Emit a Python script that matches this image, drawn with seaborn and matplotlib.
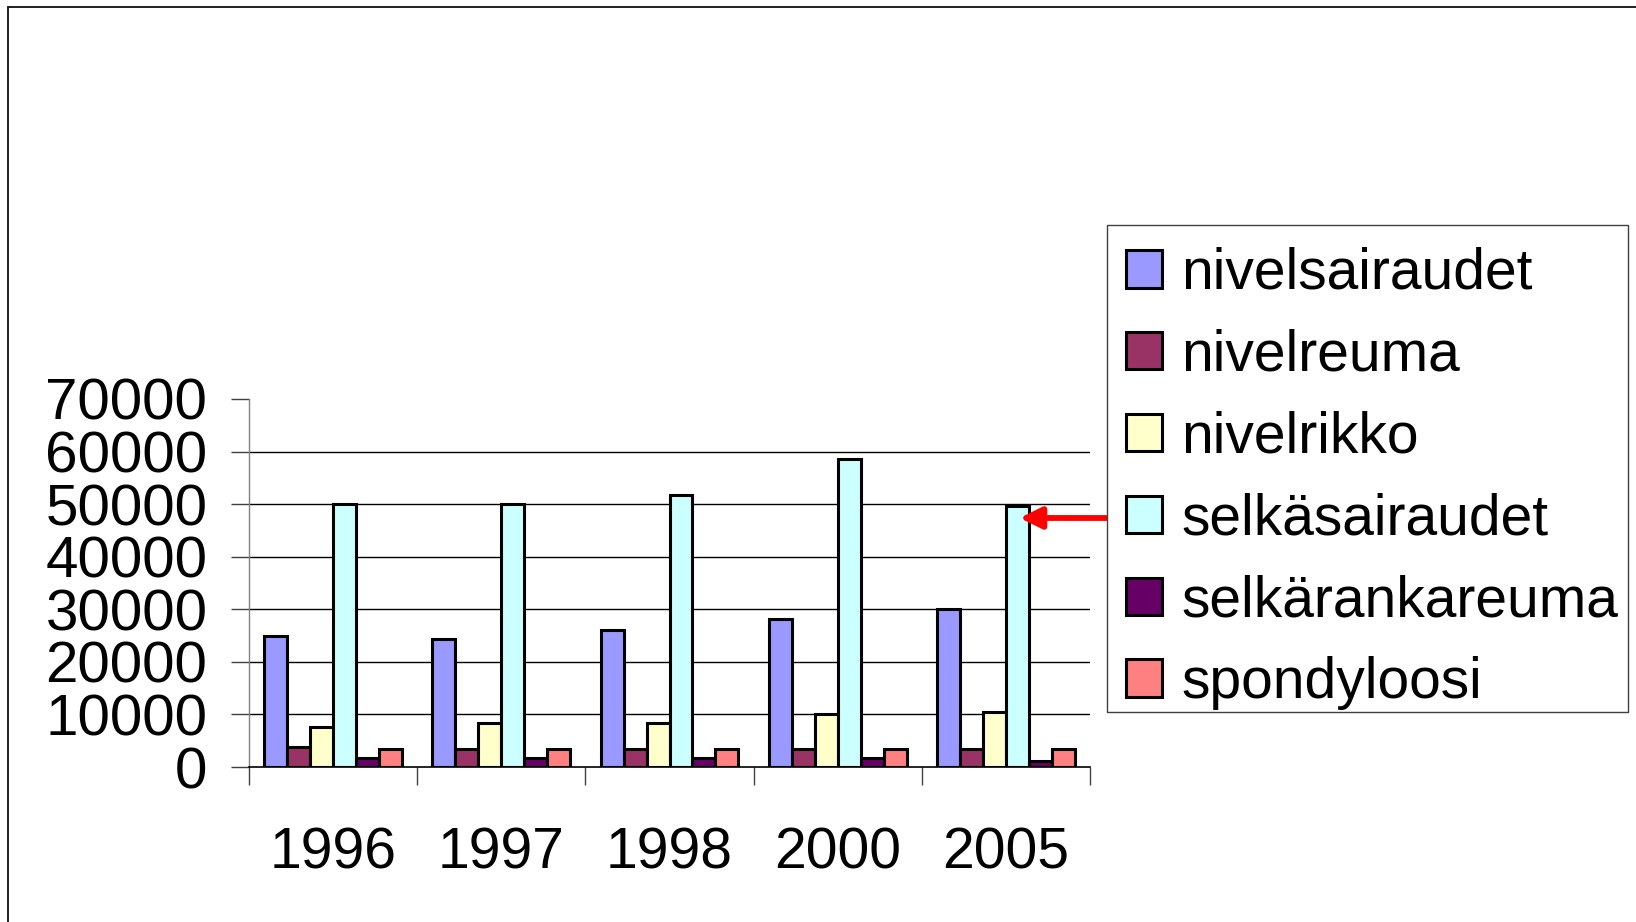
import matplotlib
matplotlib.use("Agg")
import matplotlib.pyplot as plt
from matplotlib.lines import Line2D
from matplotlib.patches import Rectangle
import seaborn as sns
import pandas as pd


# ------------------------------------------------
# DATA
# ------------------------------------------------

years = ["1996", "1997", "1998", "2000", "2005"]

diseases = [
    "nivelsairaudet", "nivelreuma", "nivelrikko",
    "selkäsairaudet", "selkärankareuma", "spondyloosi",
]

nivelsairaudet = [25000, 24400, 26000, 28200, 30000]
nivelreuma = [3800, 3400, 3400, 3400, 3400]
nivelrikko = [7700, 8400, 8400, 10000, 10500]
selkasairaudet = [50000, 50000, 51800, 58600, 49600]
selkarankareuma = [1700, 1700, 1700, 1700, 1100]
spondyloosi = [3400, 3400, 3400, 3400, 3400]

y_ticks = [0, 10000, 20000, 30000, 40000, 50000, 60000, 70000]

colors = ["#9999FF", "#993366", "#FFFFCC", "#CCFFFF", "#660066", "#FF8080"]


# ------------------------------------------------
# STYLE
# ------------------------------------------------

sns.set_style("white")
plt.rcParams["font.family"] = ["Liberation Sans", "DejaVu Sans"]
plt.rcParams["text.color"] = "black"
plt.rcParams["xtick.color"] = "black"
plt.rcParams["ytick.color"] = "black"

W, H = 1636, 922

series = [nivelsairaudet, nivelreuma, nivelrikko,
          selkasairaudet, selkarankareuma, spondyloosi]

rows = []
for name, vals in zip(diseases, series):
    for yr, v in zip(years, vals):
        rows.append({"year": yr, "disease": name, "value": v})
df = pd.DataFrame(rows)


# ------------------------------------------------
# PLOT
# ------------------------------------------------

fig = plt.figure(figsize=(W / 100, H / 100), dpi=100)
ax = fig.add_axes([249 / W, 1 - 767 / H, (1090 - 249) / W, (767 - 399) / H])

sns.barplot(
    data=df, x="year", y="value", hue="disease",
    order=years, hue_order=diseases, palette=colors,
    width=0.82, saturation=1, edgecolor="black", linewidth=2.2,
    errorbar=None, ax=ax,
)

ax.set_xlim(-0.5, len(years) - 0.5)
ax.set_ylim(0, 70000)
ax.set_xlabel("")
ax.set_ylabel("")

ax.set_yticks(y_ticks)
ax.set_yticklabels([str(t) for t in y_ticks], fontsize=42)
for t in y_ticks[1:-1]:
    ax.axhline(t, color="black", lw=1.0, zorder=0.5)

ax.set_xticks(range(len(years)))
ax.set_xticklabels(years, fontsize=41)
ax.set_xticks([i - 0.5 for i in range(len(years) + 1)], minor=True)
ax.tick_params(axis="x", which="major", length=0, pad=43, labelcolor="black")
ax.tick_params(axis="x", which="minor", length=13, width=1.0,
               color="#404040", direction="out", bottom=True)
ax.tick_params(axis="y", length=13, width=1.0, color="#404040",
               direction="out", pad=17, left=True, labelcolor="black")

for s in ["top", "right"]:
    ax.spines[s].set_visible(False)
ax.spines["left"].set_color("#808080")
ax.spines["left"].set_linewidth(1.0)
ax.spines["bottom"].set_color("black")
ax.spines["bottom"].set_linewidth(1.2)

# legend (frame drawn separately)
handles, labels = ax.get_legend_handles_labels()
ax.get_legend().remove()
fig.add_artist(Rectangle((1107 / W, 1 - 712 / H), (1628 - 1107) / W,
                         (712 - 225) / H, transform=fig.transFigure,
                         facecolor="white", edgecolor="#404040", lw=1.0,
                         zorder=2))
leg = fig.legend(
    handles, labels,
    loc="upper left", bbox_to_anchor=(1107 / W, 1 - 228 / H),
    bbox_transform=fig.transFigure, borderaxespad=0,
    fontsize=41, frameon=False,
    handlelength=0.64, handleheight=0.64, handletextpad=0.33,
    labelspacing=0.49, borderpad=0.33, labelcolor="black",
)
leg.set_zorder(3)

# red arrow pointing at the 2005 selkäsairaudet bar
bar = ax.containers[3][4]
tip_x = bar.get_x() + bar.get_width() * 0.6
tip_y = bar.get_height() * 0.955
ax.annotate(
    "", xy=(tip_x, tip_y), xycoords="data",
    xytext=(1110 / W, 1 - 518 / H), textcoords="figure fraction",
    arrowprops=dict(arrowstyle="-|>,head_length=0.65,head_width=0.32",
                    mutation_scale=20, color="red", lw=4.2,
                    shrinkA=0, shrinkB=0),
    annotation_clip=False,
)

# outer frame (top and left edges visible)
fig.add_artist(Line2D([8 / W, 1], [1 - 7.5 / H, 1 - 7.5 / H],
                      transform=fig.transFigure, color="#202020", lw=1.4))
fig.add_artist(Line2D([8 / W, 8 / W], [0, 1 - 7.5 / H],
                      transform=fig.transFigure, color="#202020", lw=1.4))

fig.savefig("out.png", dpi=100, facecolor="white")
